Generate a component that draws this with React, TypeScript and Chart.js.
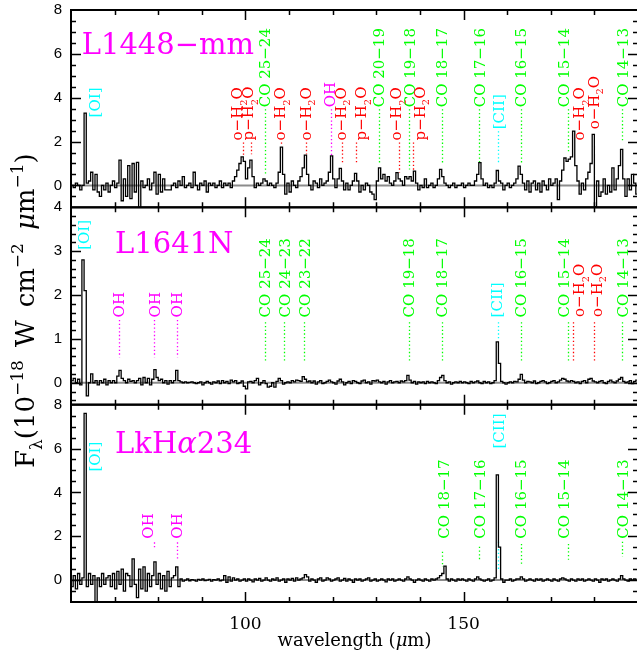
import React, { useEffect, useRef } from 'react';
import { Chart, registerables } from 'chart.js';

Chart.register(...registerables);

// ---------------- data ----------------
// spectra are sampled on a regular wavelength grid (bin centres)
const lambdaStart = 60.25; // µm
const lambdaStep = 0.5; // µm

const fluxL1448mm = [
  0.0, -0.1, 0.1, 0.0, -0.2, 0.0, 3.3, 0.1, 0.2, 0.6,
  -0.2, 0.5, -0.3, -0.5, 0.0, -0.2, 0.1, -0.3, 0.0, 0.2,
  -0.1, 0.1, 1.15, -0.7, 0.3, -0.5, 0.9, -0.6, 1.0, -0.3,
  1.05, -1.0, 0.2, -0.1, 0.0, 0.3, -0.2, 0.1, 0.6, -0.4,
  0.5, -0.3, 0.3, -0.2, -0.2, -0.2, 0.0, 0.1, -0.1, 0.2,
  0.0, 0.4, -0.1, 0.0, 0.1, -0.1, 0.6, 0.0, -0.2, 0.1,
  0.0, 0.2, -0.3, 0.1, 0.0, 0.1, -0.1, 0.0, 0.2, -0.1,
  0.1, 0.0, 0.1, -0.1, 0.2, 0.4, 0.7, 1.0, 1.3, 1.1,
  0.3, 0.8, 1.15, 0.4, -0.1, 0.1, 0.0, 0.1, 0.3, 0.2,
  0.0, 0.1, 0.0, -0.1, 0.1, 0.6, 1.75, 0.5, -0.4, 0.1,
  -0.3, 0.2, 0.0, -0.1, 0.2, 0.4, 0.8, 1.38, 0.5, 0.0,
  -0.2, 0.2, 0.1, -0.1, 0.3, 0.0, 0.1, 0.2, 0.6, 1.35,
  0.3, -0.1, 0.3, 0.78, 0.2, -0.2, 0.1, -0.2, 0.0, 0.2,
  0.55, 0.2, -0.3, 0.0, -0.2, 0.1, 0.0, -0.3, -0.4, -0.65,
  0.2, 0.8, 0.3, 0.5, 0.2, 0.4, 0.1, 0.0, 0.2, 0.58,
  0.3, 0.2, 0.0, 0.4, 0.3, 0.4, 0.2, 0.65, 0.1, -0.2,
  0.0, -0.1, 0.3, -0.1, 0.0, 0.1, -0.1, 0.0, 0.3, 0.73,
  0.4, 0.1, 0.0, -0.1, 0.0, 0.1, -0.1, 0.0, 0.0, 0.1,
  -0.1, 0.0, 0.1, 0.0, 0.0, 0.2, 0.5, 1.04, 0.3, 0.0,
  0.1, -0.1, 0.0, -0.1, 0.1, 0.68, 0.2, 0.1, -0.2, 0.0,
  0.1, -0.1, 0.0, 0.1, 0.3, 0.88, 0.5, 0.1, -0.2, 0.2,
  -0.3, 0.1, 0.2, -0.2, 0.1, -0.3, 0.2, 0.0, -0.2, 0.3,
  0.0, 0.1, 0.3, -0.65, 0.2, 0.7, 1.25, 1.1, 1.2, 1.3,
  2.48, 0.9, 0.2, -0.4, 0.1, -0.2, 0.3, 0.6, 1.0, 2.33,
  -0.97, 0.2, -0.5, -0.3, 0.3, -0.4, 0.0, -0.3, 0.8, -0.2,
  0.3, 0.9, 1.64, 0.3, -0.5, 0.3, -0.2, 0.5, 0.1, -0.4,
];

const fluxL1641N = [
  0.05, 0.1, 0.0, 0.08, -0.05, 2.8, 2.1, -0.3, 0.0, 0.2,
  0.0, 0.05, -0.05, 0.05, 0.0, 0.08, -0.05, 0.05, 0.0, 0.05,
  0.0, 0.15, 0.28, 0.1, 0.05, 0.0, 0.08, 0.03, 0.05, 0.0,
  0.05, 0.1, -0.05, 0.12, 0.0, 0.1, -0.05, 0.08, 0.3, 0.12,
  0.05, 0.08, 0.0, 0.05, -0.03, 0.05, 0.0, 0.05, 0.28, 0.05,
  0.02, 0.0, 0.02, 0.0, 0.01, 0.02, 0.0, -0.02, 0.0, 0.02,
  -0.05, 0.0, 0.03, 0.0, -0.03, 0.02, 0.0, 0.04, -0.02, 0.05,
  0.0, 0.03, -0.02, 0.06, 0.02, 0.05, -0.02, 0.0, 0.04, -0.08,
  -0.14, 0.02, 0.03, 0.0, 0.05, 0.1, -0.05, 0.0, 0.05, -0.02,
  -0.1, -0.08, 0.0, -0.1, 0.03, 0.1, 0.05, -0.03, 0.0, 0.02,
  0.0, 0.05, 0.02, 0.06, 0.05, 0.03, 0.14, 0.08, 0.02, 0.04,
  0.0, 0.04, -0.03, 0.02, 0.05, -0.02, 0.0, 0.03, 0.06, 0.02,
  0.0, -0.03, 0.04, 0.08, 0.02, -0.05, 0.0, 0.03, -0.02, 0.05,
  0.03, 0.0, -0.02, 0.04, 0.06, 0.0, 0.02, -0.03, 0.05, 0.04,
  0.06, 0.02, 0.0, 0.03, -0.03, 0.02, 0.05, 0.0, 0.02, 0.03,
  0.0, 0.04, 0.02, 0.05, 0.17, 0.06, 0.0, 0.03, -0.03, 0.02,
  0.0, 0.02, -0.02, 0.03, 0.0, 0.02, 0.0, -0.02, 0.05, 0.12,
  0.17, 0.05, 0.0, 0.02, -0.03, 0.0, 0.02, 0.0, 0.03, 0.0,
  0.02, 0.0, -0.02, 0.03, 0.0, 0.02, 0.04, 0.0, -0.02, 0.03,
  0.0, 0.02, -0.02, 0.0, 0.05, 0.93, 0.44, 0.03, 0.0, -0.03,
  0.0, 0.02, 0.0, 0.03, 0.02, 0.08, 0.19, 0.06, 0.0, 0.03,
  0.02, 0.0, 0.04, -0.02, 0.0, 0.03, 0.05, 0.02, -0.02, 0.0,
  0.03, 0.05, 0.0, 0.02, 0.06, 0.1, 0.08, 0.04, 0.02, 0.05,
  0.03, 0.0, 0.02, -0.02, 0.03, 0.05, 0.0, 0.08, 0.1, 0.04,
  0.02, 0.0, 0.03, 0.05, 0.0, -0.02, 0.03, 0.06, 0.02, 0.0,
  0.04, 0.08, 0.12, 0.03, 0.0, 0.02, 0.05, -0.02, 0.03, 0.06,
];

const fluxLkHa234 = [
  -0.3, 0.2, -0.4, 0.3, -0.2, 0.1, 7.6, -0.3, 0.3, -0.2,
  0.2, -1.0, 0.1, -0.3, 0.3, -0.2, 0.1, 0.2, -0.3, 0.3,
  -0.4, 0.4, -0.2, 0.5, -0.5, 0.3, 0.2, -0.3, 0.97, -0.2,
  -0.8, 0.5, -0.4, 0.6, -0.5, 0.3, -0.3, 0.2, 0.83, -0.2,
  0.3, -0.4, 0.2, -0.5, 0.4, -0.3, 0.1, 0.2, 0.6, -0.3,
  0.05, -0.05, 0.0, 0.05, -0.03, 0.02, 0.0, -0.05, 0.03, 0.0,
  0.05, -0.02, 0.0, 0.03, -0.05, 0.02, 0.0, 0.05, -0.03, 0.0,
  0.2, -0.1, 0.15, -0.05, 0.1, 0.0, 0.05, -0.05, 0.0, 0.05,
  -0.05, 0.05, 0.0, -0.08, 0.05, 0.0, 0.08, -0.05, 0.0, 0.1,
  0.0, -0.05, 0.05, 0.0, 0.1, -0.05, 0.0, 0.05, -0.1, 0.05,
  0.0, 0.08, -0.05, 0.1, 0.0, 0.05, 0.1, 0.25, 0.15, -0.05,
  0.05, 0.0, -0.1, 0.05, 0.1, -0.05, 0.0, 0.1, 0.05, -0.05,
  0.0, 0.05, 0.1, -0.05, 0.0, 0.08, -0.05, 0.05, 0.0, -0.1,
  0.05, 0.0, 0.05, -0.05, 0.0, 0.05, 0.1, -0.05, 0.0, 0.05,
  -0.05, 0.0, 0.05, 0.0, -0.08, 0.05, 0.0, 0.05, -0.05, 0.0,
  0.05, 0.0, -0.05, 0.05, 0.15, 0.05, 0.0, -0.1, 0.0, 0.05,
  0.0, -0.05, 0.05, 0.0, -0.05, 0.05, 0.0, 0.05, 0.1, 0.2,
  0.3, 0.64, 0.05, -0.05, 0.05, 0.0, -0.05, 0.05, 0.0, 0.05,
  0.0, -0.05, 0.05, 0.0, -0.05, 0.05, 0.15, 0.05, 0.0, -0.05,
  0.0, 0.05, -0.05, 0.0, 0.1, 4.8, 1.5, 0.05, -0.1, 0.0,
  0.0, 0.05, -0.05, 0.0, 0.05, 0.05, 0.15, 0.05, -0.05, 0.0,
  0.05, 0.0, -0.05, 0.05, 0.0, 0.05, -0.05, 0.0, 0.05, 0.0,
  -0.05, 0.05, 0.0, -0.05, 0.05, 0.1, 0.05, 0.0, -0.05, 0.05,
  0.0, -0.05, 0.05, 0.0, 0.05, -0.05, 0.0, 0.05, 0.0, -0.05,
  0.05, 0.0, -0.1, 0.05, 0.0, 0.05, -0.05, 0.0, 0.05, 0.0,
  -0.05, 0.05, 0.2, 0.05, 0.0, -0.05, 0.05, 0.0, 0.05, 0.0,
];

const panelNames = ['L1448−mm', 'L1641N', 'LkHα234'];
const panelYMin = [-1, -0.5, -1];
const panelYMax = [8, 4, 8];
const panelYLabels = [[0, 2, 4, 6, 8], [0, 1, 2, 3, 4], [0, 2, 4, 6, 8]];
const panelMinorStep = [0.5, 0.2, 0.5];
const panelMajorStep = [2, 1, 2];
// where each source name starts: [wavelength, flux]
const panelNameAt = [[62.45, 5.98], [70.1, 2.96], [70.1, 5.81]];

const xMin = 60;
const xMax = 190;
const xLabelled = [100, 150];
const xMinorStep = 10;
const xMajorStep = 50;

// line identifications:
// [species, line wavelength, label wavelength, transition, label base flux, dotted top flux, dotted bottom flux]
const linesL1448mm = [
  ['OI', 63.2, 65.5, '', 3.1, null, null],
  ['oH2O', 99.4, 98.0, '', 2.05, 1.96, 1.32],
  ['pH2O', 101.2, 100.6, '', 2.05, 1.96, 1.42],
  ['CO', 104.4, 104.4, '25−24', 3.56, 3.47, 0.5],
  ['oH2O', 108.1, 107.9, '', 2.05, 1.96, 1.85],
  ['oH2O', 113.9, 113.7, '', 2.05, 1.96, 1.42],
  ['OH', 119.6, 119.3, '', 3.56, 3.47, 1.32],
  ['oH2O', 122.1, 121.7, '', 2.05, 1.96, 0.96],
  ['pH2O', 125.4, 126.4, '', 2.05, 1.96, 1.05],
  ['CO', 130.6, 130.5, '20−19', 3.56, 3.47, 0.96],
  ['oH2O', 135.1, 134.5, '', 2.05, 1.96, 0.59],
  ['CO', 137.4, 137.6, '19−18', 3.56, 3.47, 0.73],
  ['pH2O', 138.5, 139.9, '', 2.05, 1.96, 0.64],
  ['CO', 145.0, 145.0, '18−17', 3.56, 3.47, 0.96],
  ['CO', 153.6, 153.6, '17−16', 3.56, 3.47, 1.05],
  ['CII', 158.0, 158.0, '', 2.56, 2.47, 0.96],
  ['CO', 163.1, 163.1, '16−15', 3.56, 3.47, 0.96],
  ['CO', 173.9, 172.9, '15−14', 3.56, 3.47, 1.5],
  ['oH2O', 175.2, 176.4, '', 2.05, null, null],
  ['oH2O', 179.8, 179.8, '', 2.56, null, null],
  ['CO', 186.4, 186.4, '14−13', 3.56, 3.47, 1.96],
];

const linesL1641N = [
  ['OI', 63.0, 63.0, '', 3.03, null, null],
  ['OH', 71.1, 70.85, '', 1.49, 1.43, 0.58],
  ['OH', 79.1, 79.1, '', 1.49, 1.43, 0.58],
  ['OH', 84.4, 84.2, '', 1.49, 1.43, 0.58],
  ['CO', 104.4, 104.5, '25−24', 1.49, 1.38, 0.46],
  ['CO', 108.9, 108.9, '24−23', 1.49, 1.38, 0.46],
  ['CO', 113.5, 113.5, '23−22', 1.49, 1.38, 0.46],
  ['CO', 137.4, 137.4, '19−18', 1.49, 1.38, 0.46],
  ['CO', 145.0, 145.0, '18−17', 1.49, 1.38, 0.46],
  ['CII', 158.0, 157.6, '', 1.49, 1.38, 0.97],
  ['CO', 163.1, 163.1, '16−15', 1.49, 1.38, 0.46],
  ['CO', 173.9, 172.9, '15−14', 1.49, 1.38, 0.46],
  ['oH2O', 175.0, 176.4, '', 1.5, 1.38, 0.46],
  ['oH2O', 180.0, 180.4, '', 1.5, 1.38, 0.46],
  ['CO', 186.4, 186.4, '14−13', 1.49, 1.38, 0.46],
];

const linesLkHa234 = [
  ['OI', 63.2, 65.5, '', 4.95, null, null],
  ['OH', 79.1, 77.5, '', 1.89, 1.72, 1.38],
  ['OH', 84.4, 84.2, '', 1.89, 1.72, 0.93],
  ['CO', 145.0, 145.4, '18−17', 1.89, 1.29, 0.61],
  ['CO', 153.6, 153.6, '17−16', 1.89, 1.52, 0.93],
  ['CII', 158.0, 158.0, '', 6.0, 1.75, 0.47],
  ['CO', 163.1, 163.1, '16−15', 1.89, 1.65, 0.74],
  ['CO', 173.9, 172.9, '15−14', 1.89, 1.65, 0.93],
  ['CO', 186.4, 186.4, '14−13', 1.89, 1.75, 1.06],
];

// ---------------- styling ----------------
const speciesColor: Record<string, string> = {
  CO: '#00ff00',
  oH2O: '#ff0000',
  pH2O: '#ff0000',
  OH: '#ff00ff',
  OI: '#00ffff',
  CII: '#00ffff',
};
const SERIF = '"DejaVu Serif", serif';
const axisIds = ['yTop', 'yMiddle', 'yBottom'];
const spectra = [fluxL1448mm, fluxL1641N, fluxLkHa234];
const panelLines = [linesL1448mm, linesL1641N, linesLkHa234];

type Piece = { t: string; sub?: boolean; sup?: boolean; italic?: boolean };

function labelPieces(species: string, trans: string): Piece[] {
  switch (species) {
    case 'CO': return [{ t: 'CO ' + trans }];
    case 'oH2O': return [{ t: 'o−H' }, { t: '2', sub: true }, { t: 'O' }];
    case 'pH2O': return [{ t: 'p−H' }, { t: '2', sub: true }, { t: 'O' }];
    case 'OH': return [{ t: 'OH' }];
    case 'OI': return [{ t: '[OI]' }];
    default: return [{ t: '[CII]' }];
  }
}

function drawRich(ctx: CanvasRenderingContext2D, pieces: Piece[], x: number, y: number, size: number,
  family: string, rotated: boolean, align: 'start' | 'center', dy: number) {
  const fontFor = (p: Piece) => `${p.italic ? 'italic ' : ''}${(p.sub || p.sup) ? Math.round(size * 0.65) : size}px ${family}`;
  let total = 0;
  const widths = pieces.map((p) => {
    ctx.font = fontFor(p);
    const w = ctx.measureText(p.t).width;
    total += w;
    return w;
  });
  ctx.save();
  ctx.translate(x, y);
  if (rotated) ctx.rotate(-Math.PI / 2);
  ctx.textAlign = 'left';
  ctx.textBaseline = 'alphabetic';
  let cx = align === 'center' ? -total / 2 : 0;
  pieces.forEach((p, i) => {
    ctx.font = fontFor(p);
    const off = p.sub ? size * 0.3 : p.sup ? -size * 0.42 : 0;
    ctx.fillText(p.t, cx, dy + off);
    cx += widths[i];
  });
  ctx.restore();
}

const panelPlugin = {
  id: 'panelPlugin',
  beforeDatasetsDraw(chart: any) {
    const ctx: CanvasRenderingContext2D = chart.ctx;
    const xs = chart.scales.x;
    axisIds.forEach((id, p) => {
      const ys = chart.scales[id];
      // source name
      ctx.fillStyle = '#ff00ff';
      const name = panelNames[p];
      const nameP: Piece[] = name.includes('α')
        ? [{ t: 'LkH' }, { t: 'α', italic: true }, { t: '234' }]
        : [{ t: name }];
      drawRich(ctx, nameP, xs.getPixelForValue(panelNameAt[p][0]), ys.getPixelForValue(panelNameAt[p][1]),
        29, SERIF, false, 'start', 0);
      // line identifications
      panelLines[p].forEach((row: any[]) => {
        const [species, lam, labLam, trans, base, dTop, dBot] = row;
        const color = speciesColor[species];
        if (dTop !== null && dBot !== null) {
          ctx.save();
          ctx.strokeStyle = color;
          ctx.lineWidth = 1.3;
          ctx.setLineDash([1.3, 2.4]);
          const lx = Math.round(xs.getPixelForValue(lam)) + 0.5;
          ctx.beginPath();
          ctx.moveTo(lx, ys.getPixelForValue(dTop));
          ctx.lineTo(lx, ys.getPixelForValue(dBot));
          ctx.stroke();
          ctx.restore();
        }
        ctx.fillStyle = color;
        drawRich(ctx, labelPieces(species, trans), xs.getPixelForValue(labLam), ys.getPixelForValue(base),
          15, SERIF, true, 'start', 15 * 0.36);
      });
    });
  },
  afterDatasetsDraw(chart: any) {
    const ctx: CanvasRenderingContext2D = chart.ctx;
    const xs = chart.scales.x;
    const { left, right } = chart.chartArea;
    ctx.save();
    ctx.strokeStyle = '#000';
    axisIds.forEach((id, p) => {
      const ys = chart.scales[id];
      const top = ys.top;
      const bottom = ys.bottom;
      ctx.lineWidth = 1.5;
      ctx.beginPath();
      const step = panelMinorStep[p];
      const kMin = Math.ceil(panelYMin[p] / step - 1e-6);
      const kMax = Math.floor(panelYMax[p] / step + 1e-6);
      for (let k = kMin; k <= kMax; k++) {
        const v = k * step;
        if (v <= panelYMin[p] + 1e-6 || v >= panelYMax[p] - 1e-6) continue;
        const r = v / panelMajorStep[p];
        const len = Math.abs(r - Math.round(r)) < 1e-6 ? 10 : 5;
        const y = Math.round(ys.getPixelForValue(v)) + 0.5;
        ctx.moveTo(left, y); ctx.lineTo(left + len, y);
        ctx.moveTo(right - len, y); ctx.lineTo(right, y);
      }
      for (let lam = xMin + xMinorStep; lam < xMax; lam += xMinorStep) {
        const len = lam % xMajorStep === 0 ? 10 : 5;
        const x = Math.round(xs.getPixelForValue(lam)) + 0.5;
        ctx.moveTo(x, top); ctx.lineTo(x, top + len);
        ctx.moveTo(x, bottom); ctx.lineTo(x, bottom - len);
      }
      ctx.stroke();
      ctx.lineWidth = 2;
      ctx.strokeRect(left, top, right - left, bottom - top);
    });
    ctx.restore();
  },
  afterDraw(chart: any) {
    const ctx: CanvasRenderingContext2D = chart.ctx;
    const { left, right } = chart.chartArea;
    ctx.fillStyle = '#000';
    // y title (reads bottom to top)
    drawRich(ctx, [
      { t: 'F' }, { t: 'λ', sub: true }, { t: '(10' }, { t: '−18', sup: true }, { t: '\u2002W\u2002cm' },
      { t: '−2', sup: true }, { t: '\u2002' }, { t: 'μ', italic: true }, { t: 'm' }, { t: '−1', sup: true }, { t: ')' },
    ], 25, 468, 26, SERIF, true, 'start', 26 * 0.36);
    // x title
    drawRich(ctx, [{ t: 'wavelength (' }, { t: 'μ', italic: true }, { t: 'm)' }],
      (left + right) / 2, 646, 18, SERIF, false, 'center', 0);
  },
};

export default function App() {
  const ref = useRef<HTMLCanvasElement | null>(null);
  useEffect(() => {
    document.body.style.margin = '0';
    document.body.style.overflow = 'hidden';
    const canvas = ref.current;
    if (!canvas) return;
    const lambdas = fluxL1448mm.map((_, i) => lambdaStart + i * lambdaStep);
    const yScale = (p: number) => ({
      type: 'linear',
      position: 'left',
      stack: 'panels',
      stackWeight: 1,
      min: panelYMin[p],
      max: panelYMax[p],
      grid: { display: true, drawOnChartArea: false, drawTicks: true, tickLength: 9, tickColor: 'rgba(0,0,0,0)' },
      border: { display: false },
      ticks: { color: '#000', font: { family: '"Liberation Sans", sans-serif', size: 15 }, padding: 0 },
      afterBuildTicks: (s: any) => { s.ticks = panelYLabels[p].map((v) => ({ value: v })); },
      afterFit: (s: any) => { s.width = 71; },
    });
    const chart = new Chart(canvas, {
      type: 'line',
      data: {
        datasets: [
          ...spectra.map((s, p) => ({
            data: s.map((y, i) => ({ x: lambdas[i], y })),
            yAxisID: axisIds[p],
            borderColor: '#000',
            borderWidth: 1.3,
            pointRadius: 0,
            stepped: 'middle' as const,
            fill: false,
          })),
          ...axisIds.map((id) => ({
            data: [{ x: xMin, y: 0 }, { x: xMax, y: 0 }],
            yAxisID: id,
            borderColor: '#8c8c8c',
            borderWidth: 2,
            pointRadius: 0,
            fill: false,
          })),
        ],
      },
      options: {
        animation: false,
        responsive: false,
        devicePixelRatio: 1,
        events: [],
        layout: { padding: { top: 10, right: 2, left: 0, bottom: 0 } },
        plugins: { legend: { display: false }, tooltip: { enabled: false } },
        scales: {
          x: {
            type: 'linear',
            min: xMin,
            max: xMax,
            position: 'bottom',
            grid: { display: true, drawOnChartArea: false, drawTicks: true, tickLength: 12, tickColor: 'rgba(0,0,0,0)' },
            border: { display: false },
            ticks: {
              stepSize: xMinorStep,
              autoSkip: false,
              maxRotation: 0,
              color: '#000',
              font: { family: SERIF, size: 17 },
              padding: 0,
              callback: (v: any) => (xLabelled.includes(Number(v)) ? String(v) : ''),
            },
            afterFit: (s: any) => { s.height = 57; },
          },
          yBottom: yScale(2),
          yMiddle: yScale(1),
          yTop: yScale(0),
        } as any,
      },
      plugins: [panelPlugin],
    } as any);
    return () => chart.destroy();
  }, []);
  return (
    <div style={{ position: 'relative', width: 637, height: 659, overflow: 'hidden', background: '#fff' }}>
      <canvas ref={ref} width={640} height={659} style={{ display: 'block' }} />
    </div>
  );
}
